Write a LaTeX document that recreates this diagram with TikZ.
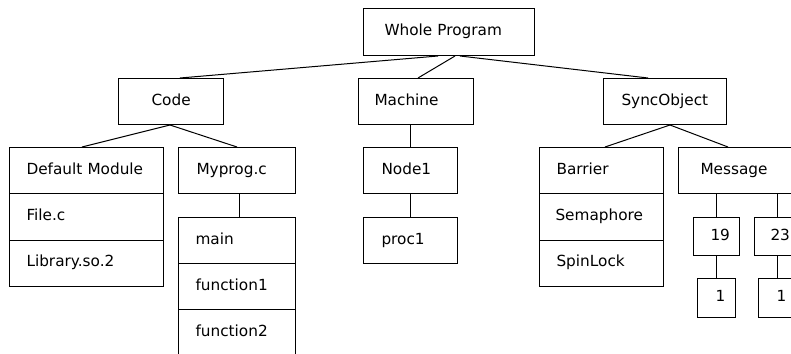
\documentclass[tikz,border=0pt]{standalone}
\usepackage{fontspec}
\setmainfont{DejaVu Sans}
\begin{document}
\begin{tikzpicture}[x=1pt,y=-1pt,
  box/.style={draw=black, line width=1pt, anchor=north west, inner ysep=0pt,
    align=left, text height=11pt, text depth=4pt,
    font=\fontsize{15.3}{18}\selectfont},
  conn/.style={draw=black, line width=1pt}]
\useasboundingbox (0,0) rectangle (791,353);
\clip (0,0) rectangle (791,353);
\newcommand\bx[7]{\node[box, minimum height=#5pt, inner xsep=#6pt, text width={#4pt-2*#6pt}] (#1) at (#2,#3) {\rlap{#7}};}
% level 0
\bx{whole}{363}{8}{171}{47}{21}{Whole Program}
% level 1
\bx{code}{118}{78}{105}{46}{33}{Code}
\bx{machine}{358}{78}{115}{46}{16}{Machine}
\bx{sync}{603}{78}{123}{46}{18}{SyncObject}
% Code children
\bx{dm}{9}{147}{154}{46.3}{17}{Default Module}
\bx{filec}{9}{193.3}{154}{46.3}{17}{File.c}
\bx{lib}{9}{239.6}{154}{46.4}{17}{Library.so.2}
\bx{myprog}{178}{147}{117}{46}{18}{Myprog.c}
\bx{main}{178}{217}{117}{46}{17}{main}
\bx{fone}{178}{263}{117}{46}{17}{function1}
\bx{ftwo}{178}{309}{117}{46}{17}{function2}
% Machine children
\bx{nodeone}{363}{147}{94}{46}{18}{Node1}
\bx{proc}{363}{217}{94}{46}{18}{proc1}
% SyncObject children
\bx{barrier}{539}{147}{124}{46.3}{17}{Barrier}
\bx{sema}{539}{193.3}{124}{46.3}{16}{Semaphore}
\bx{spin}{539}{239.6}{124}{46.4}{17}{SpinLock}
\bx{message}{678}{147}{130}{46}{22}{Message}
\bx{nnineteen}{693}{217}{46}{38}{17}{19}
\bx{ntwentythree}{754}{217}{46}{38}{16}{23}
\bx{onea}{697}{278}{38}{39}{18}{1}
\bx{oneb}{758}{278}{38}{39}{18}{1}
% connectors
\draw[conn] ([xshift=75pt]whole.south west) -- ([xshift=62pt]code.north west);
\draw[conn] ([xshift=92pt]whole.south west) -- ([xshift=60pt]machine.north west);
\draw[conn] ([xshift=97pt]whole.south west) -- ([xshift=45pt]sync.north west);
\draw[conn] ([xshift=52pt]code.south west) -- ([xshift=73pt]dm.north west);
\draw[conn] ([xshift=52pt]code.south west) -- ([xshift=59pt]myprog.north west);
\draw[conn] ([xshift=61pt]myprog.south west) -- ([xshift=61pt]main.north west);
\draw[conn] (machine.south -| nodeone.north) -- (nodeone.north);
\draw[conn] (nodeone.south) -- (proc.north);
\draw[conn] ([xshift=67pt]sync.south west) -- ([xshift=66pt]barrier.north west);
\draw[conn] ([xshift=67pt]sync.south west) -- ([xshift=50pt]message.north west);
\draw[conn] (message.south -| nnineteen.north) -- (nnineteen.north);
\draw[conn] (message.south -| ntwentythree.north) -- (ntwentythree.north);
\draw[conn] (nnineteen.south) -- (onea.north);
\draw[conn] (ntwentythree.south) -- (oneb.north);
\end{tikzpicture}
\end{document}
